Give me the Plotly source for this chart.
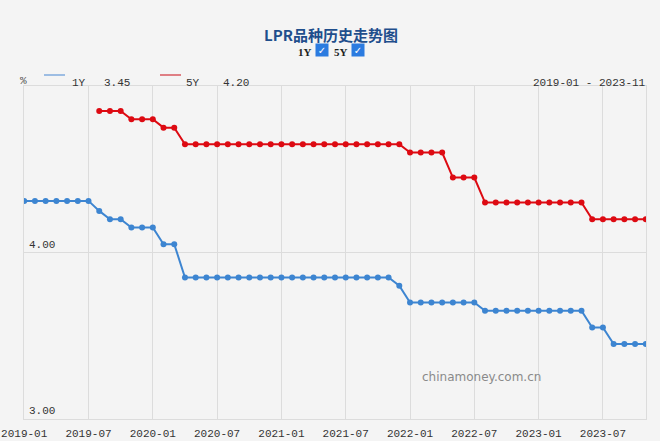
import plotly.graph_objects as go

# ---- data ----
months = [f"{y}-{m:02d}" for y in range(2019, 2024) for m in range(1, 13)][:59]  # 2019-01 .. 2023-11
y1 = [4.31, 4.31, 4.31, 4.31, 4.31, 4.31, 4.31, 4.25, 4.20, 4.20, 4.15, 4.15,
      4.15, 4.05, 4.05, 3.85, 3.85, 3.85, 3.85, 3.85, 3.85, 3.85, 3.85, 3.85,
      3.85, 3.85, 3.85, 3.85, 3.85, 3.85, 3.85, 3.85, 3.85, 3.85, 3.85, 3.80,
      3.70, 3.70, 3.70, 3.70, 3.70, 3.70, 3.70, 3.65, 3.65, 3.65, 3.65, 3.65,
      3.65, 3.65, 3.65, 3.65, 3.65, 3.55, 3.55, 3.45, 3.45, 3.45, 3.45]
y5 = [None, None, None, None, None, None, None, 4.85, 4.85, 4.85, 4.80, 4.80,
      4.80, 4.75, 4.75, 4.65, 4.65, 4.65, 4.65, 4.65, 4.65, 4.65, 4.65, 4.65,
      4.65, 4.65, 4.65, 4.65, 4.65, 4.65, 4.65, 4.65, 4.65, 4.65, 4.65, 4.65,
      4.60, 4.60, 4.60, 4.60, 4.45, 4.45, 4.45, 4.30, 4.30, 4.30, 4.30, 4.30,
      4.30, 4.30, 4.30, 4.30, 4.30, 4.20, 4.20, 4.20, 4.20, 4.20, 4.20]
x_ticks = ["2019-01", "2019-07", "2020-01", "2020-07", "2021-01", "2021-07",
           "2022-01", "2022-07", "2023-01", "2023-07"]
y_ticks = [3.0, 4.0]
y_ticktext = ["3.00", "4.00"]

BG = "#f4f4f4"
GRID = "#dcdcdc"
BLUE = "#3d85d1"
RED = "#dd0a12"
FONT = "Liberation Mono"

L, R, T, B = 24, 14, 86, 22
W, H = 660, 441

fig = go.Figure()
fig.add_trace(go.Scatter(x=months, y=y1, mode="lines+markers", name="1Y",
                         line=dict(color=BLUE, width=2),
                         marker=dict(color=BLUE, size=6)))
fig.add_trace(go.Scatter(x=months, y=y5, mode="lines+markers", name="5Y",
                         line=dict(color=RED, width=2),
                         marker=dict(color=RED, size=6)))

fig.update_layout(
    width=W, height=H, autosize=False,
    paper_bgcolor=BG, plot_bgcolor=BG,
    margin=dict(l=L, r=R, t=T, b=B, pad=0, autoexpand=False),
    showlegend=False,
    font=dict(family=FONT, size=11, color="#333"),
    xaxis=dict(type="category", range=[-0.02, 58.02], tickmode="array",
               tickvals=x_ticks, ticktext=x_ticks, automargin=False,
               showgrid=True, gridcolor=GRID, gridwidth=1,
               showline=True, linecolor=GRID, mirror=True,
               ticks="", ticklabelstandoff=4,
               tickfont=dict(family=FONT, size=11, color="#333"),
               zeroline=False),
    yaxis=dict(range=[3, 5], tickmode="array", tickvals=y_ticks,
               showticklabels=False, automargin=False,
               showgrid=True, gridcolor=GRID, gridwidth=1,
               showline=True, linecolor=GRID, mirror=True,
               ticks="", zeroline=False),
)

def px_x(px):
    return (px - L) / (W - L - R)

def px_y(py):
    return (H - B - py) / (H - T - B)

annotations = [
    dict(x=px_x(331), y=px_y(22), text="<b>LPR品种历史走势图</b>",
         font=dict(family="Noto Sans CJK SC", size=15, color="#1f4e8c")),
    dict(x=px_x(305), y=px_y(44), text="<b>1Y</b>",
         font=dict(family="Liberation Serif", size=11, color="#222")),
    dict(x=px_x(322), y=px_y(43), text="<b>✓</b>", bgcolor="#2b7be0", width=12, height=12,
         borderpad=0, font=dict(family="DejaVu Sans", size=10, color="white")),
    dict(x=px_x(341), y=px_y(44), text="<b>5Y</b>",
         font=dict(family="Liberation Serif", size=11, color="#222")),
    dict(x=px_x(358), y=px_y(43), text="<b>✓</b>", bgcolor="#2b7be0", width=12, height=12,
         borderpad=0, font=dict(family="DejaVu Sans", size=10, color="white")),
    dict(x=px_x(18), y=px_y(73), text="%", xanchor="left",
         font=dict(family=FONT, size=11, color="#555")),
    dict(x=px_x(70), y=px_y(75), text="1Y", xanchor="left",
         font=dict(family=FONT, size=11, color="#333")),
    dict(x=px_x(102), y=px_y(75), text=f"{y1[-1]:.2f}", xanchor="left",
         font=dict(family=FONT, size=11, color="#333")),
    dict(x=px_x(184), y=px_y(75), text="5Y", xanchor="left",
         font=dict(family=FONT, size=11, color="#333")),
    dict(x=px_x(221), y=px_y(75), text=f"{y5[-1]:.2f}", xanchor="left",
         font=dict(family=FONT, size=11, color="#333")),
    dict(x=px_x(648), y=px_y(75), text=f"{months[0]} - {months[-1]}", xanchor="right",
         font=dict(family=FONT, size=11, color="#333")),
    dict(x=px_x(543), y=px_y(386), text="chinamoney.com.cn",
         font=dict(family="DejaVu Sans", size=12, color="#8a8a8a")),
]
# y-axis value labels drawn inside the plot, just above their gridlines
for v, t in zip(y_ticks, y_ticktext):
    annotations.append(dict(x=px_x(27), xref="paper", y=v, yref="y", text=t,
                            xanchor="left", yanchor="bottom", yshift=0,
                            font=dict(family=FONT, size=11, color="#333")))
for a in annotations:
    a.setdefault("xref", "paper")
    a.setdefault("yref", "paper")
    a.setdefault("showarrow", False)
fig.update_layout(annotations=annotations)

fig.add_shape(type="line", xref="paper", yref="paper",
              x0=px_x(44), x1=px_x(65), y0=px_y(75), y1=px_y(75),
              line=dict(color="#9dbde3", width=2))
fig.add_shape(type="line", xref="paper", yref="paper",
              x0=px_x(160), x1=px_x(181), y0=px_y(75), y1=px_y(75),
              line=dict(color="#df7f84", width=2))

fig.write_html("out.html", config={"displayModeBar": False},
               post_script="document.body.style.margin='0';document.body.style.background='#f4f4f4';")
